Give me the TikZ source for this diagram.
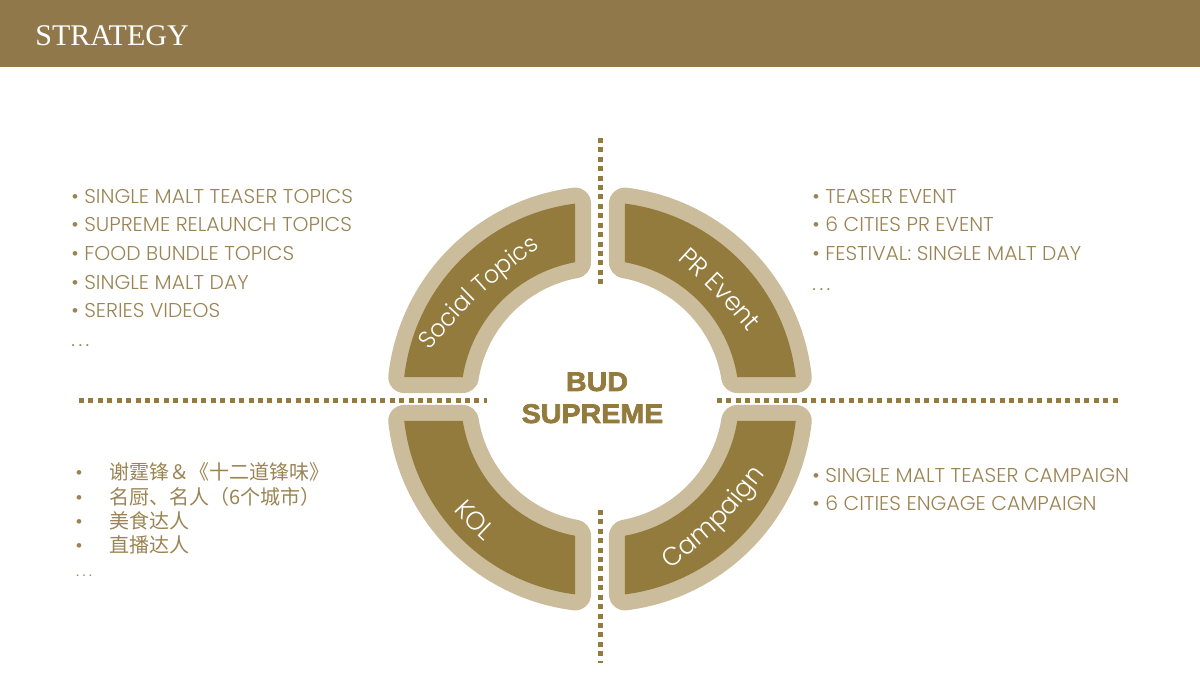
\documentclass[tikz,border=0pt]{standalone}
\usepackage{fontspec}
\usetikzlibrary{decorations.text}
\setmainfont{Poppins Light}[FakeStretch=1.015]
\newfontfamily\ringfont{Poppins Light}[FakeStretch=0.97]
\newfontfamily\titlefont{Liberation Serif}
\newfontfamily\centerfont{Liberation Sans Bold}[FakeStretch=1.06,FakeBold=2.5]
\newfontfamily\cjk{Noto Sans CJK SC}
\definecolor{headbar}{HTML}{91784B}
\definecolor{ringdark}{HTML}{937B3D}
\definecolor{ringlight}{HTML}{CBBD9C}
\definecolor{bodytext}{HTML}{9A8454}
\newcommand{\bl}[1]{\makebox[7.8pt][l]{•}#1}
\newcommand{\blc}[1]{\makebox[20.4pt][l]{•}{\cjk #1}}
\newcommand{\dd}{.\kern2.1pt.\kern2.1pt.}
\tikzset{
  x=0.6pt,y=0.6pt,
  seg/.style={preaction={draw=ringlight,line width=19.2pt,line join=round},fill=ringdark},
  dotline/.style={draw=ringdark,line width=3pt,dash pattern=on 3pt off 2.65pt},
  item/.style={anchor=base west,inner sep=0pt,text=bodytext,font=\fontsize{12}{14}\selectfont},
  ringtext/.style={decorate,decoration={text along path,text align=center,
     text={|\ringfont\fontsize{15.5}{18}\selectfont\color{white}|#1}}},
  ringsmall/.style={decorate,decoration={text along path,text align=center,
     text={|\ringfont\fontsize{14.6}{18}\selectfont\color{white}|#1}}}
}
\begin{document}
\begin{tikzpicture}
\useasboundingbox (0,0) rectangle (1200,675);
\fill[headbar] (0,608) rectangle (1200,675);
\node[anchor=base west,inner sep=0pt,text=white,font=\titlefont\fontsize{18}{22}\selectfont] (title) at (35,629) {STRATEGY};
% dotted axes
\coordinate (vta) at (600,537);
\coordinate (vtb) at (600,390);
\coordinate (vba) at (600,165);
\coordinate (vbb) at (600,12);
\coordinate (hla) at (79,274.5);
\coordinate (hlb) at (487,274.5);
\coordinate (hra) at (717,274.5);
\coordinate (hrb) at (1120,274.5);
\draw[dotline] (vta) -- (vtb);
\draw[dotline] (vba) -- (vbb);
\draw[dotline] (hla) -- (hlb);
\draw[dotline] (hra) -- (hrb);
% ring segments
\begin{scope}[shift={(600,276)}]
\path[seg] (97.28:197) arc[start angle=97.28,end angle=173.6,radius=197] -- (170.9:139) arc[start angle=170.9,end angle=100.36,radius=139] -- cycle;
\path[seg] (82.72:197) arc[start angle=82.72,end angle=6.4,radius=197] -- (9.1:139) arc[start angle=9.1,end angle=79.64,radius=139] -- cycle;
\path[seg] (262.72:197) arc[start angle=262.72,end angle=186.4,radius=197] -- (189.1:139) arc[start angle=189.1,end angle=259.64,radius=139] -- cycle;
\path[seg] (277.28:197) arc[start angle=277.28,end angle=353.6,radius=197] -- (350.9:139) arc[start angle=350.9,end angle=280.36,radius=139] -- cycle;
\end{scope}
% ring labels
\path[ringsmall={Social Topics}] (419,312) .. controls (479,382) .. (553,437);
\path[ringtext={PR Event}] (667.5,425) .. controls (715.4,381.4) .. (757.5,332.3);
\path[ringtext={KOL}] (431,189) .. controls (468,148) .. (509,111);
\path[ringtext={Campaign}] (667.4,103.4) .. controls (723.2,147.8) .. (767.6,203.6);
% centre
\node[inner sep=0pt,text=ringdark,font=\centerfont\fontsize{16.2}{19}\selectfont,anchor=base] (bud) at (597,284) {BUD};
\node[inner sep=0pt,text=ringdark,font=\centerfont\fontsize{16.2}{19}\selectfont,anchor=base] (sup) at (592.5,252) {SUPREME};
% top-left list
\node[item] (a1) at (71,471) {\bl{SINGLE MALT TEASER TOPICS}};
\node[item] (a2) at (71,443) {\bl{SUPREME RELAUNCH TOPICS}};
\node[item] (a3) at (71,414) {\bl{FOOD BUNDLE TOPICS}};
\node[item] (a4) at (71,385) {\bl{SINGLE MALT DAY}};
\node[item] (a5) at (71,357) {\bl{SERIES VIDEOS}};
\node[item] (a6) at (71,328) {\dd};
% top-right list
\node[item] (b1) at (812,471) {\bl{TEASER EVENT}};
\node[item] (b2) at (812,443) {\bl{6 CITIES PR EVENT}};
\node[item] (b3) at (812,414) {\bl{FESTIVAL: SINGLE MALT DAY}};
\node[item] (b4) at (812,384) {\dd};
% bottom-right list
\node[item] (c1) at (812,192) {\bl{SINGLE MALT TEASER CAMPAIGN}};
\node[item] (c2) at (812,164) {\bl{6 CITIES ENGAGE CAMPAIGN}};
% bottom-left list
\node[item] (d1) at (75,195) {\blc{谢霆锋＆《十二道锋味》}};
\node[item] (d2) at (75,170) {\blc{名厨、名人（6个城市）}};
\node[item] (d3) at (75,146) {\blc{美食达人}};
\node[item] (d4) at (75,122) {\blc{直播达人}};
\node[item,font=\fontsize{10}{12}\selectfont] (d5) at (75,98) {\kern0.5pt.\kern2pt.\kern2pt.};
\end{tikzpicture}
\end{document}
